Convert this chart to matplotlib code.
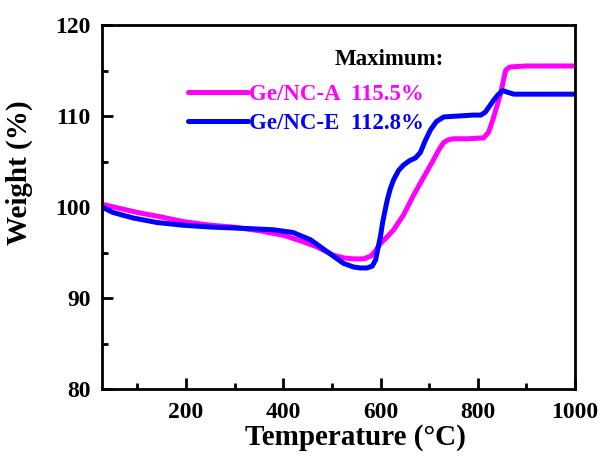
import matplotlib
matplotlib.use("Agg")
import matplotlib.pyplot as plt
from matplotlib.ticker import MultipleLocator

# Data
temp_a = [27, 60, 100, 150, 194, 250, 297, 350, 400, 440, 470, 503, 525, 545, 565, 580, 590, 600,
          615, 627, 647, 668, 689, 709, 720, 730, 740, 750, 780, 812, 822, 831, 840, 847, 853, 857,
          863, 868, 900, 950, 1000]
weight_a = [100.3, 99.9, 99.4, 98.9, 98.4, 98.0, 97.8, 97.4, 96.9, 96.2, 95.6, 94.7, 94.4, 94.3, 94.3,
            94.6, 95.2, 96.0, 96.8, 97.5, 99.1, 101.3, 103.3, 105.2, 106.3, 107.1, 107.4, 107.5, 107.5,
            107.6, 108.2, 109.6, 111.2, 112.5, 114.0, 115.0, 115.3, 115.4, 115.5, 115.5, 115.5]

temp_e = [27, 50, 91, 140, 194, 250, 297, 340, 379, 420, 456, 490, 524, 545, 559, 572, 583, 590, 594,
          600, 604, 610, 614, 620, 627, 637, 647, 660, 672, 682, 692, 703, 715, 730, 760, 790, 806,
          815, 823, 832, 841, 851, 862, 874, 900, 950, 1000]
weight_e = [100.0, 99.4, 98.8, 98.3, 98.0, 97.8, 97.7, 97.6, 97.5, 97.2, 96.4, 95.1, 93.8, 93.4, 93.3,
            93.3, 93.5, 94.2, 95.3, 96.8, 98.2, 99.8, 100.8, 102.0, 103.0, 104.0, 104.6, 105.1, 105.4,
            106.0, 107.3, 108.5, 109.4, 109.9, 110.0, 110.1, 110.1, 110.4, 111.0, 111.7, 112.3, 112.8,
            112.6, 112.4, 112.4, 112.4, 112.4]

labels = ["Ge/NC-A  115.5%", "Ge/NC-E  112.8%"]
colors = ["#FF00FF", "#0000FF"]

plt.rcParams['font.family'] = ['Liberation Serif', 'DejaVu Serif']
plt.rcParams['font.weight'] = 'bold'

fig = plt.figure(figsize=(6.06, 4.59), dpi=100)
ax = fig.add_axes([0.168, 0.1525, 0.781, 0.793])

ax.plot(temp_a, weight_a, color=colors[0], lw=3.6, label=labels[0], solid_capstyle='round')
ax.plot(temp_e, weight_e, color=colors[1], lw=3.6, label=labels[1], solid_capstyle='round')

ax.set_xlim(27, 1000)
ax.set_ylim(80, 120)
ax.xaxis.set_major_locator(MultipleLocator(200))
ax.xaxis.set_minor_locator(MultipleLocator(100))
ax.yaxis.set_major_locator(MultipleLocator(10))
ax.yaxis.set_minor_locator(MultipleLocator(5))
ax.tick_params(which='major', direction='in', length=8, width=2, labelsize=17)
ax.tick_params(axis='x', which='major', pad=9)
ax.tick_params(axis='y', which='major', pad=8)
ax.tick_params(which='minor', direction='in', length=4.5, width=2)
for lab in ax.get_xticklabels() + ax.get_yticklabels():
    lab.set_fontweight('bold')
for s in ax.spines.values():
    s.set_linewidth(2)

ax.set_xlabel("Temperature (\u00b0C)", fontsize=21, fontweight='bold')
ax.set_ylabel("Weight (%)", fontsize=21, fontweight='bold')
ax.xaxis.set_label_coords(0.535, -0.095)
ax.yaxis.set_label_coords(-0.145, 0.595)

ax.text(0.492, 0.905, "Maximum:", transform=ax.transAxes, fontsize=16.5, fontweight='bold',
        color='black', va='center', ha='left')
leg = ax.legend(loc='upper left', bbox_to_anchor=(0.182, 0.838), frameon=False,
                fontsize=16.5, labelcolor='linecolor', handlelength=2.6, handletextpad=0.05,
                borderaxespad=0, borderpad=0, labelspacing=0.36)
for t in leg.get_texts():
    t.set_fontweight('bold')

fig.savefig("out.png", dpi=100)
